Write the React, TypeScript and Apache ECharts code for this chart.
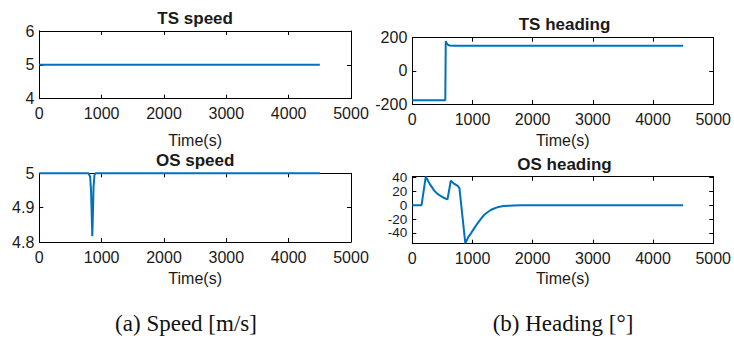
import React, { useEffect, useRef } from "react";
import * as echarts from "echarts";

// ---- data ----
const timeTicks = [0, 1000, 2000, 3000, 4000, 5000];

const tsSpeedTime = [0, 4500];
const tsSpeedValue = [5, 5];
const tsSpeedTicks = [4, 5, 6];

const tsHeadingTime = [0, 548, 556, 570, 590, 620, 680, 4500];
const tsHeadingValue = [-178, -178, 180, 167, 158, 153, 151, 151];
const tsHeadingTicks = [-200, 0, 200];

const osSpeedTime = [0, 790, 815, 830, 845, 850, 858, 870, 885, 900, 4500];
const osSpeedValue = [5, 5, 4.99, 4.95, 4.85, 4.817, 4.87, 4.96, 4.995, 5, 5];
const osSpeedTicks = [4.8, 4.9, 5];

const osHeadingTime = [
  0, 153, 224, 245, 270, 300, 340, 372, 420, 482, 530, 585, 640, 700, 755, 783,
  881, 930, 974, 1030, 1084, 1140, 1193, 1250, 1303, 1360, 1412, 1470, 1522,
  1600, 1686, 1800, 1960, 4500,
];
const osHeadingValue = [
  0, 0, 41.4, 38, 34, 29.5, 24.5, 20.5, 16.5, 12.8, 10.6, 8.5, 35.5, 31, 28, 25,
  -55, -46, -40.6, -33, -26, -19.5, -14, -10, -6.8, -4.6, -2.9, -1.8, -1, -0.5,
  -0.2, -0.05, 0, 0,
];
const osHeadingTicks = [-40, -20, 0, 20, 40];

const titles = ["TS speed", "TS heading", "OS speed", "OS heading"];
const captions = ["(a) Speed [m/s]", "(b) Heading [°]"];
const xAxisName = "Time(s)";

const FONT = '"Liberation Sans", Arial, Helvetica, sans-serif';
const LINE = "#0072BD";
const AX = "#000000";
const TXT = "#1a1a1a";

type Panel = {
  left: number;
  top: number;
  width: number;
  height: number;
  ymin: number;
  ymax: number;
  yticks: number[];
  yFont: number;
  nameGap: number;
  titleY: number;
  time: number[];
  value: number[];
};

export default function App() {
  const ref = useRef<HTMLDivElement>(null);

  useEffect(() => {
    if (!ref.current) return;
    const chart = echarts.init(ref.current, undefined, { renderer: "svg" });

    const panels: Panel[] = [
      { left: 39.3, top: 31, width: 311.7, height: 67.7, ymin: 4, ymax: 6, yticks: tsSpeedTicks, yFont: 16, nameGap: 34, titleY: 18.3, time: tsSpeedTime, value: tsSpeedValue },
      { left: 412.3, top: 37.7, width: 304.4, height: 66.3, ymin: -200, ymax: 200, yticks: tsHeadingTicks, yFont: 16, nameGap: 28, titleY: 24.2, time: tsHeadingTime, value: tsHeadingValue },
      { left: 39.3, top: 173.3, width: 311.7, height: 68.7, ymin: 4.8, ymax: 5, yticks: osSpeedTicks, yFont: 16, nameGap: 28, titleY: 160.3, time: osSpeedTime, value: osSpeedValue },
      { left: 412.3, top: 176.7, width: 304.4, height: 67, ymin: -55.5, ymax: 41.4, yticks: osHeadingTicks, yFont: 13.5, nameGap: 26.5, titleY: 164.2, time: osHeadingTime, value: osHeadingValue },
    ];

    const grid: any[] = [];
    const xAxis: any[] = [];
    const yAxis: any[] = [];
    const series: any[] = [];
    const graphic: any[] = [];

    const tickStyle = { show: true, inside: true, length: 4, lineStyle: { color: AX, width: 1 } };
    const lineStyle = { show: true, onZero: false, lineStyle: { color: AX, width: 1 } };
    const plain = (v: number) => String(Math.round(v * 1000) / 1000);

    panels.forEach((p, i) => {
      grid.push({ left: p.left, top: p.top, width: p.width, height: p.height, containLabel: false });
      xAxis.push({
        gridIndex: i,
        type: "value",
        position: "bottom",
        min: timeTicks[0],
        max: timeTicks[timeTicks.length - 1],
        interval: timeTicks[1] - timeTicks[0],
        axisLine: lineStyle,
        axisTick: tickStyle,
        splitLine: { show: false },
        axisLabel: { fontSize: 16, color: TXT, margin: 7, fontFamily: FONT, formatter: plain, hideOverlap: false },
        name: xAxisName,
        nameLocation: "middle",
        nameGap: p.nameGap,
        nameTextStyle: { fontSize: 16, color: TXT, fontFamily: FONT },
      });
      xAxis.push({
        gridIndex: i,
        type: "value",
        position: "top",
        min: timeTicks[0],
        max: timeTicks[timeTicks.length - 1],
        interval: timeTicks[1] - timeTicks[0],
        axisLine: lineStyle,
        axisTick: tickStyle,
        splitLine: { show: false },
        axisLabel: { show: false },
      });
      const yCommon = {
        gridIndex: i,
        type: "value",
        min: p.ymin,
        max: p.ymax,
        splitLine: { show: false },
        axisLine: lineStyle,
      };
      // tick labels split into two interleaved sets so none is dropped as overlapping
      const evenTicks = p.yticks.filter((_, k) => k % 2 === 0);
      const oddTicks = p.yticks.filter((_, k) => k % 2 === 1);
      const labelStyle = {
        fontSize: p.yFont,
        lineHeight: p.yFont,
        color: TXT,
        margin: 5,
        fontFamily: FONT,
        hideOverlap: false,
        formatter: plain,
        showMinLabel: true,
        showMaxLabel: true,
      };
      const baseIdx = yAxis.length;
      yAxis.push({
        ...yCommon,
        position: "left",
        offset: 0,
        axisTick: { ...tickStyle, customValues: evenTicks },
        axisLabel: { ...labelStyle, customValues: evenTicks },
      });
      yAxis.push({
        ...yCommon,
        position: "right",
        offset: 0,
        axisTick: { ...tickStyle, customValues: p.yticks },
        axisLabel: { show: false },
      });
      yAxis.push({
        ...yCommon,
        position: "left",
        offset: 0,
        axisTick: { ...tickStyle, customValues: oddTicks },
        axisLabel: { ...labelStyle, customValues: oddTicks },
      });
      series.push({
        type: "line",
        xAxisIndex: 2 * i,
        yAxisIndex: baseIdx,
        data: p.time.map((t, k) => [t, p.value[k]]),
        showSymbol: false,
        symbol: "none",
        lineStyle: { color: LINE, width: 2 },
        itemStyle: { color: LINE },
        clip: false,
      });
      graphic.push({
        type: "text",
        x: p.left + p.width / 2,
        y: p.titleY,
        style: {
          text: titles[i],
          fontSize: 17,
          fontWeight: "bold",
          fontFamily: FONT,
          fill: TXT,
          align: "center",
          verticalAlign: "middle",
        },
      });
    });

    graphic.push({
      type: "text",
      x: 186,
      y: 323,
      style: { text: captions[0], fontSize: 23, fontFamily: '"Liberation Serif", "Times New Roman", serif', fill: "#111", align: "center", verticalAlign: "middle" },
    });
    graphic.push({
      type: "text",
      x: 563,
      y: 323,
      style: { text: captions[1], fontSize: 23, fontFamily: '"Liberation Serif", "Times New Roman", serif', fill: "#111", align: "center", verticalAlign: "middle" },
    });

    chart.setOption({
      animation: false,
      backgroundColor: "#ffffff",
      grid,
      xAxis,
      yAxis,
      series,
      graphic,
    });

    return () => chart.dispose();
  }, []);

  return (
    <div
      ref={ref}
      style={{ position: "fixed", left: 0, top: 0, width: 734, height: 338 }}
    />
  );
}
